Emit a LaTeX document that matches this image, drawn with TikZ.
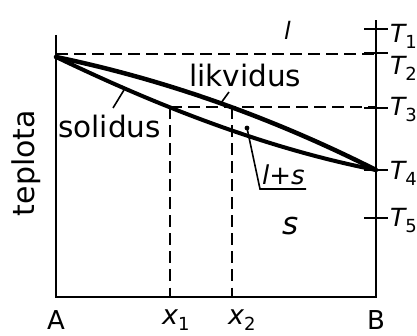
\documentclass[tikz,border=0pt]{standalone}
\usepackage{fontspec}
\setmainfont{DejaVu Sans}
\begin{document}
\begin{tikzpicture}[x=1pt,y=-1pt]

% Font size helper and low-set index: \lbl{size}, \idx{digit}
\newcommand{\lbl}[1]{\fontsize{#1}{#1}\selectfont}
\newcommand{\idx}[1]{\raisebox{-6pt}{\lbl{18}\upshape #1}}

\tikzset{
  axis line/.style={
    draw=black,
    line width=2.2pt,
    line join=miter
  },
  guide line/.style={draw=black, line width=2pt, dash pattern=on 12pt off 6pt},
  phase curve/.style={draw=black, line width=4.5pt, line cap=round},
  leader/.style={draw=black, line width=1.6pt},
  word/.style={anchor=base west, inner sep=0pt, font=\lbl{29.5}},
  tlabel/.style={anchor=base west, inner sep=0pt, font=\lbl{25}\itshape}
}

\useasboundingbox (0,0) rectangle (417,336);

% Key points of the diagram.
\coordinate (meltA) at (56,57);
\coordinate (meltB) at (376,170);
\coordinate (sol3) at (170,107.5);
\coordinate (liq3) at (232,107.5);
\coordinate (foot1) at (170,297);
\coordinate (foot2) at (232,297);

% Axes: left, bottom and right.
\draw[axis line] (56,35) -- (56,297) -- (376,297) -- (376,20);

% Temperature ticks.
\foreach \y in {29,53,108,170,218}{
  \draw[axis line] (364,\y) -- (388,\y);
}

% Dashed guides at T_2 and T_3, and down to x_1, x_2.
\draw[guide line] (56,54) -- (376,54);
\draw[guide line] (sol3) -- (376,107.5);
\draw[guide line] (sol3) -- (foot1);
\draw[guide line] (liq3) -- (foot2);

% Liquidus (upper) and solidus (lower).
\draw[phase curve] (meltA) .. controls (162,79) and (269,116) .. (meltB);
\draw[phase curve, line width=4pt] (meltA) .. controls (162,108) and (269,149) .. (meltB);

% Leaders to the curve labels.
\coordinate (solfoot) at (113,108);
\coordinate (soltip) at (124,90);
\draw[leader] (solfoot) -- (soltip);
\coordinate (liqfoot) at (221,103);
\coordinate (liqtip) at (229,92);
\draw[leader] (liqfoot) -- (liqtip);
\coordinate (lensdot) at (247,128);
\coordinate (lensbend) at (260,189);
\coordinate (lensend) at (306,189);
\fill (lensdot) circle (2.4);
\draw[leader] (lensdot) -- (lensbend) -- (lensend);

% Labels.
\node[word] (likvidus) at (189,87) {likvidus};
\node[word] (solidus) at (58,138) {solidus};
\node[word, anchor=base, rotate=90, font=\lbl{30}] (teplota) at (34,163) {teplota};
\node[word, font=\lbl{24}\itshape] (liquid) at (284,40) {l};
\node[word, font=\lbl{31}\itshape] (solid) at (282,235) {s};
\node[word, font=\lbl{26}] (mixed) at (262,185) {{\itshape l}+{\itshape s}};
\node[word, anchor=base, font=\lbl{26}] (compA) at (56,329) {A};
\node[word, anchor=base, font=\lbl{26}] (compB) at (376,329) {B};
\node[word, font=\lbl{27}\itshape] (xone) at (162,324) {x\idx{1}};
\node[word, font=\lbl{27}\itshape] (xtwo) at (228,324) {x\idx{2}};

% Temperature labels.
\node[tlabel] (tone) at (390,43) {T\idx{1}};
\node[tlabel] (ttwo) at (390,75) {T\idx{2}};
\node[tlabel] (tthree) at (390,116) {T\idx{3}};
\node[tlabel] (tfour) at (390,180) {T\idx{4}};
\node[tlabel] (tfive) at (390,227) {T\idx{5}};

\end{tikzpicture}
\end{document}
